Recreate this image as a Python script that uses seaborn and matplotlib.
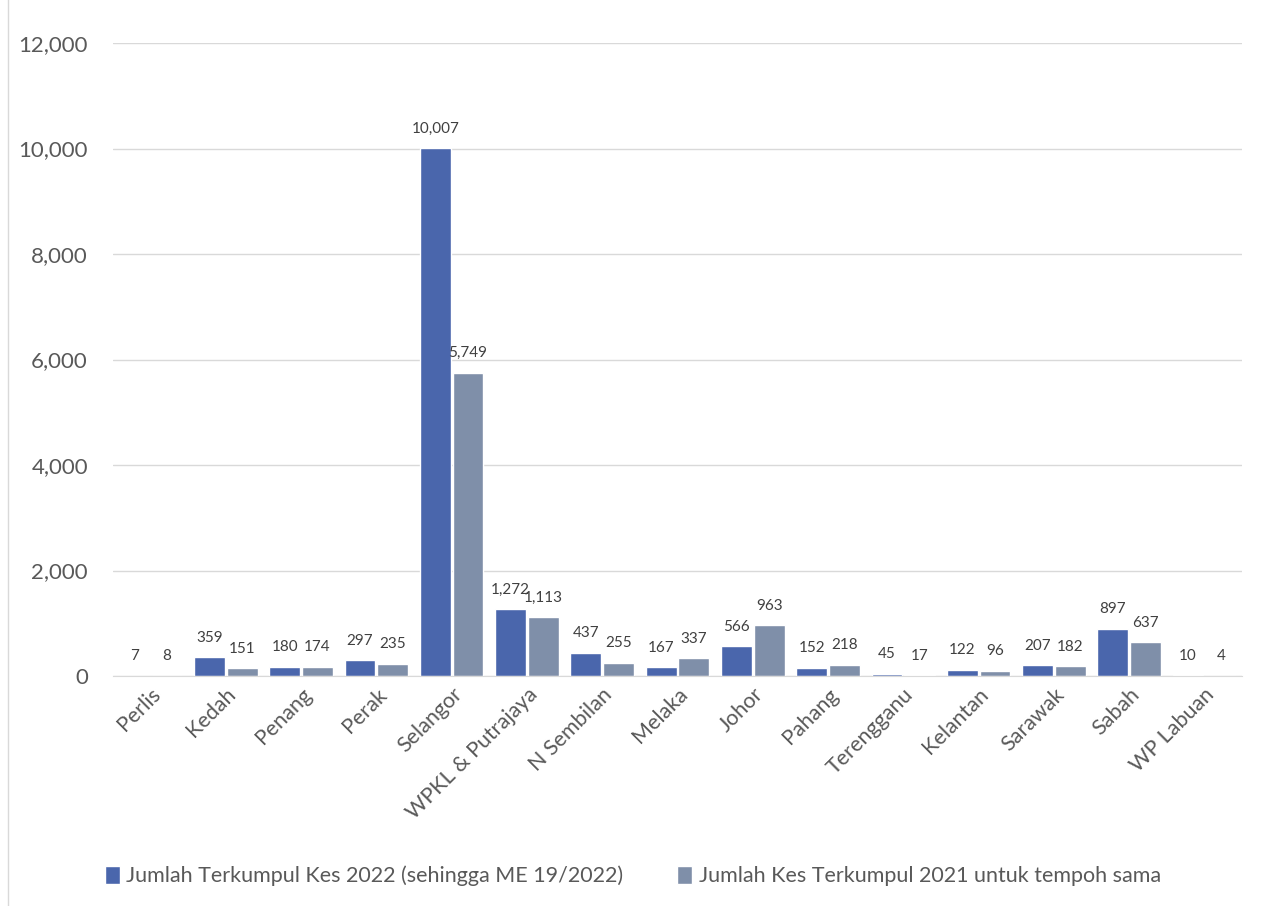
import seaborn as sns
import pandas as pd
import matplotlib.pyplot as plt
from matplotlib.patches import Rectangle

states = ["Perlis", "Kedah", "Penang", "Perak", "Selangor", "WPKL & Putrajaya",
          "N Sembilan", "Melaka", "Johor", "Pahang", "Terengganu", "Kelantan",
          "Sarawak", "Sabah", "WP Labuan"]
kes_2022 = [7, 359, 180, 297, 10007, 1272, 437, 167, 566, 152, 45, 122, 207, 897, 10]
kes_2021 = [8, 151, 174, 235, 5749, 1113, 255, 337, 963, 218, 17, 96, 182, 637, 4]
series = ["Jumlah Terkumpul Kes 2022 (sehingga ME 19/2022)",
          "Jumlah Kes Terkumpul 2021 untuk tempoh sama"]

df = pd.DataFrame({
    "Negeri": states * 2,
    "Kes": kes_2022 + kes_2021,
    "Siri": [series[0]] * len(states) + [series[1]] * len(states),
})

sns.set_style("white")
plt.rcParams['font.family'] = ['Lato', 'DejaVu Sans']

fig = plt.figure(figsize=(12.66, 9.06), dpi=100)
ax = fig.add_axes([113 / 1266, 1 - 676 / 906, (1242 - 113) / 1266, (676 - 43) / 906])

sns.barplot(data=df, x="Negeri", y="Kes", hue="Siri", ax=ax,
            palette=["#4A66AC", "#7F8FA9"], width=0.87, gap=0.06,
            saturation=1, legend=True)

for cont in ax.containers:
    ax.bar_label(cont, labels=[f"{v:,.0f}" for v in cont.datavalues],
                 padding=9, fontsize=11, color="#404040")

ax.set_ylim(0, 12000)
ax.set_xlim(-0.5, len(states) - 0.5)
ax.set_yticks(range(0, 12001, 2000))
ax.set_yticklabels([f"{v:,}" for v in range(0, 12001, 2000)], fontsize=16, color="#595959")
ax.yaxis.grid(True, color="#D9D9D9", linewidth=1)
ax.set_axisbelow(True)
ax.tick_params(axis="both", length=0)
ax.tick_params(axis="y", pad=18)
ax.tick_params(axis="x", pad=6)
plt.setp(ax.get_xticklabels(), rotation=45, ha="right", rotation_mode="anchor",
         fontsize=15.5, color="#595959")
ax.set_xlabel("")
ax.set_ylabel("")
for s in ["top", "right", "left"]:
    ax.spines[s].set_visible(False)
ax.spines["bottom"].set_color("#D9D9D9")

ax.legend(loc="center", bbox_to_anchor=(0.5, (906 - 876) / 906), bbox_transform=fig.transFigure,
          ncol=2, frameon=False, fontsize=15.5, handlelength=0.7, handleheight=0.9,
          handletextpad=0.3, columnspacing=2.5, labelcolor="#595959")

fig.patches.append(Rectangle((8 / 1266, -0.01), 1.2, 1.2, transform=fig.transFigure,
                             fill=False, edgecolor="#D9D9D9", linewidth=1))

fig.savefig("out.png", dpi=100)
